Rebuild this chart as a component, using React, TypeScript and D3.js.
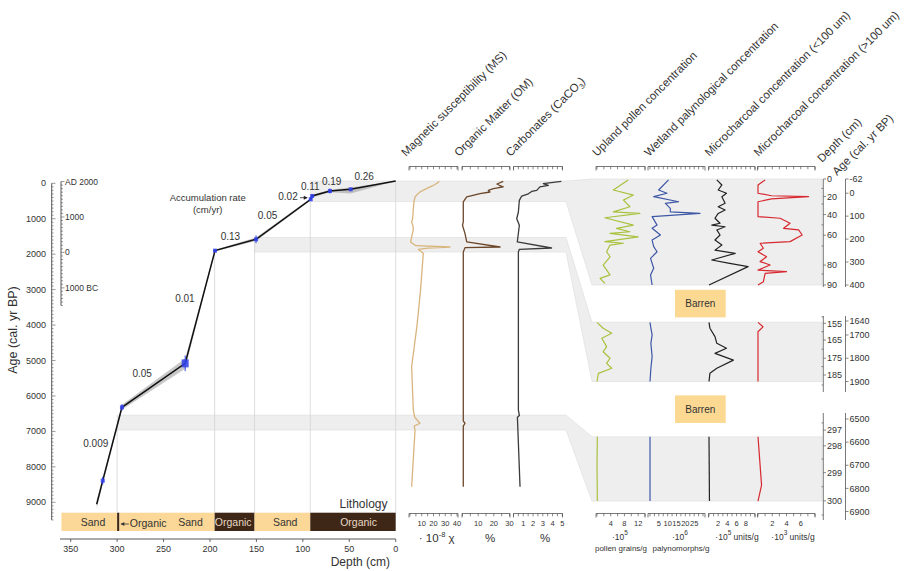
import * as d3 from "d3";
import React from "react";

// ---- age-depth model (depth in cm, age in cal yr BP) ----
const modelDepth = [0, 48.5, 70.8, 90, 91.5, 150.4, 194.6, 226.7, 294.8, 315.5, 322];
const modelAge = [-62, 170, 217, 358, 450, 1580, 1900, 5080, 6320, 8390, 9055];
const modelAgeMin = [-62, 120, 185, 320, 420, 1530, 1875, 4940, 6250, 8290, 8940];
const modelAgeMax = [-62, 290, 250, 400, 485, 1630, 1925, 5230, 6390, 8490, 9170];

const dateDepth = [48.5, 70.8, 90, 91.5, 150.4, 194.6, 226.7, 294.8, 315.5];
const dateAge = [170, 217, 358, 450, 1580, 1900, 5080, 6320, 8390];
const dateErr = [40, 70, 50, 40, 110, 30, 220, 90, 110];

const rateText = ["0.26", "0.19", "0.11", "0.02", "0.05", "0.13", "0.01", "0.05", "0.009"];
const rateDepth = [34, 69, 92, 116, 138, 178, 227, 273, 323];
const rateAge = [-169, -37, 113, 406, 942, 1523, 3264, 5380, 7361];

const lithoFrom = [360, 300, 297.5, 195, 152, 92];
const lithoTo = [300, 297.5, 195, 152, 92, 0];
const lithoType = ["Sand", "Organic", "Sand", "Organic", "Sand", "Organic"];
const lithoLabelDepth = [326, 296, 221, 175, 119, 40];
const boundaryDepth = [0, 92, 152, 195, 300];

const ageTicks = [0, 1000, 2000, 3000, 4000, 5000, 6000, 7000, 8000, 9000];
const depthTicks = [350, 300, 250, 200, 150, 100, 50, 0];
const adLabels = ["AD 2000", "1000", "0", "1000 BC"];
const adAges = [-50, 950, 1950, 2950];

// ---- shaded intervals ----
const bandAgeFrom = [-62, 1530, 6540];
const bandAgeTo = [515, 1940, 6960];
const bandStartDepth = [92, 152, 300];
const sectionAgeFrom = [-62, 1645, 6577];
const sectionAgeTo = [400, 1900, 6855];

// ---- geochemistry (age, value) ----
const msData: [number, number][] = [
  [-56, 25], [0, 23], [56, 20], [100, 17], [152, 14], [200, 11], [245, 8.5], [320, 6],
  [386, 4.3], [500, 3.5], [716, 2.8], [900, 2.5], [1035, 2], [1090, 1.4], [1200, 2.5],
  [1316, 2.8], [1500, 1.5], [1655, 0.5], [1760, 5], [1797, 34], [1830, 15], [1862, 7],
  [1938, 10], [1975, 11.3], [3000, 9], [4000, 6], [5174, 1.4], [6395, 2.8], [6600, 4],
  [6770, 8.5], [6850, 3.5], [6960, 4.3], [8560, 1.4],
];
const omData: [number, number][] = [
  [-56, 26], [20, 22], [56, 23.5], [100, 26], [152, 19.7], [200, 16.5], [245, 17.5],
  [290, 11.2], [386, 2.7], [527, 0.5], [1090, 0.5], [1184, 0], [1420, 1.6], [1655, 2.7],
  [1797, 24], [1815, 1.6], [1938, 0.5], [6700, 0.5], [6770, 1.6], [6850, 0.5], [8560, 0.5],
];
const carbData: [number, number][] = [
  [-56, 4.9], [10, 3.05], [56, 3.57], [100, 2.7], [200, 2.38], [230, 1.86], [296, 1.52],
  [360, 0.84], [480, 0.6], [810, 0.5], [1000, 0.33], [1184, 0.6], [1655, 0.39], [1825, 3.9],
  [1862, 0.6], [1938, 0.5], [6400, 0.5], [6550, 0.6], [6600, 0.4], [8560, 0.67],
];

// ---- palynology (age, value) per section ----
const uplandTop: [number, number][] = [
  [-58, 9.1], [-14, 4.75], [8, 10.6], [30, 7.7], [59, 9.6], [81, 4.75], [88, 12.5], [107, 2.3],
  [139, 10.6], [153, 5.7], [168, 9.6], [175, 3.8], [190, 12], [211, 2.3], [218, 7.7], [226, 3.8],
  [255, 2.8], [277, 3.8], [313, 1.8], [356, 3.8], [371, 0.9], [393, 2.3],
];
const uplandMid: [number, number][] = [
  [1646, 0], [1671, 1.8], [1693, 4.3], [1714, 1.4], [1750, 2.8], [1772, 1.8], [1800, 3.8],
  [1822, 2.8], [1843, 4.3], [1865, 0.4], [1900, 0],
];
const uplandBot: [number, number][] = [[6577, 0.1], [6700, 0], [6855, 0.1]];

const wetlandTop: [number, number][] = [
  [-58, 10.5], [-14, 4.9], [0, 9.6], [15, 2.1], [37, 16.2], [44, 8.7], [66, 11.5], [81, 11.5],
  [88, 28.3], [102, 1.2], [139, 4], [153, 1.2], [182, 5.9], [204, 1.2], [233, 2.1], [255, 4],
  [284, 0.3], [327, 2.1], [356, 0.3], [400, 1.2],
];
const wetlandMid: [number, number][] = [
  [1646, 0], [1671, 0.5], [1700, 1.2], [1736, 0.5], [1793, 1.2], [1843, 0.5], [1900, 0],
];
const wetlandBot: [number, number][] = [[6577, 0], [6855, 0]];

const microSmallTop: [number, number][] = [
  [-58, 1.7], [-36, 2.8], [-14, 2], [0, 3.8], [15, 2.8], [44, 3.5], [59, 2], [73, 3.5], [88, 2],
  [109, 1.3], [131, 2.4], [139, 0.6], [146, 3.5], [160, 1.7], [182, 2.4], [204, 1.3], [226, 2.8],
  [248, 1.3], [262, 5.7], [291, 0.6], [305, 4.2], [320, 8.5], [400, 0],
];
const microSmallMid: [number, number][] = [
  [1646, 0], [1671, 0.2], [1707, 1.3], [1736, 1.7], [1757, 3.8], [1779, 1.3], [1808, 5.3],
  [1843, 1.7], [1865, 0.2], [1900, 0],
];
const microSmallBot: [number, number][] = [[6577, 0], [6855, 0.1]];

const microLargeTop: [number, number][] = [
  [-58, 1], [-36, 0], [0, 0], [11, 1.9], [15, 7.1], [25, 1.9], [37, 0], [102, 0], [109, 3.1],
  [131, 4.5], [153, 3.6], [160, 5.7], [182, 6.2], [211, 4.5], [218, 0.3], [240, 0.75], [255, 0],
  [277, 1.2], [298, 0.3], [313, 1.7], [335, 0], [342, 4], [349, 1], [386, 0.75], [400, 0],
];
const microLargeMid: [number, number][] = [[1646, 0], [1665, 0.7], [1686, 0], [1900, 0]];
const microLargeBot: [number, number][] = [[6577, 0], [6786, 0.5], [6855, 0]];

// ---- right-hand depth / age axes per section ----
const secAgeTicks = [[-62, 0, 100, 200, 300, 400], [1640, 1700, 1800, 1900], [6500, 6600, 6700, 6800, 6900]];
const secDepthLabels = [[0, 20, 40, 60, 80, 90], [155, 165, 175, 185], [297, 298, 299, 300]];
const secDepthAges = [[-62, 14, 93, 183, 313, 400], [1650, 1722, 1800, 1872], [6548, 6616, 6732, 6854]];
const secMinorAges = [[-21, 47, 138, 230, 352], [1622, 1686, 1761, 1836, 1915], [6517, 6673, 6793, 6915]];

const FONT = "'Liberation Sans', Arial, Helvetica, sans-serif";
const TXT = "#333";

// layout
const depthX = d3.scaleLinear().domain([0, 350]).range([395.7, 70.7]);
const ageY = d3.scaleLinear().domain([0, 9000]).range([183.3, 502.3]);
const secY = [
  d3.scaleLinear().domain([-62, 400]).range([179, 285]),
  d3.scaleLinear().domain([1640, 1900]).range([321, 381.5]),
  d3.scaleLinear().domain([6500, 6900]).range([419, 511.5]),
];
const secAxisSpan = [[179, 287], [316, 392], [413, 520]];
const bandEndX = 566;
const secX0 = 592;
const secX1 = 822;

const geoPanels = [
  { name: "Magnetic susceptibility (MS)", color: "#d9b57e", domain: [0, 40], range: [410, 457], axis: [409, 458], step: 5, labels: [10, 20, 30, 40], data: msData },
  { name: "Organic Matter (OM)", color: "#6b4629", domain: [0, 30], range: [462.5, 509.5], axis: [462, 510], step: 5, labels: [10, 20, 30], data: omData },
  { name: "Carbonates (CaCO", color: "#3a3a3a", domain: [0, 5], range: [513.5, 562.3], axis: [513.5, 562.5], step: 0.5, labels: [1, 2, 3, 4, 5], data: carbData },
];

const palyPanels = [
  { name: "Upland pollen concentration", color: "#a8c23e", domain: [0, 14], range: [597, 645], axis: [596, 645], step: 2, labels: [4, 8, 12], data: [uplandTop, uplandMid, uplandBot], exp: "5", unit: "", under: "pollen grains/g", unitX: 620, underX: 621 },
  { name: "Wetland palynological concentration", color: "#3d57a6", domain: [0, 30], range: [650, 703], axis: [648, 705], step: 2.5, labels: [5, 10, 15, 20, 25], data: [wetlandTop, wetlandMid, wetlandBot], exp: "6", unit: "", under: "palynomorphs/g", unitX: 680, underX: 681 },
  { name: "Microcharcoal concentration (<100 um)", color: "#222", domain: [0, 10], range: [709, 755], axis: [708.5, 755], step: 1, labels: [2, 4, 6, 8], data: [microSmallTop, microSmallMid, microSmallBot], exp: "5", unit: " units/g", under: "", unitX: 737, underX: 737 },
  { name: "Microcharcoal concentration (>100 um)", color: "#d7282f", domain: [0, 8], range: [758, 815], axis: [757.5, 815], step: 1, labels: [2, 4, 6], data: [microLargeTop, microLargeMid, microLargeBot], exp: "3", unit: " units/g", under: "", unitX: 793, underX: 793 },
];

const Ruler: React.FC<{ scale: d3.ScaleLinear<number, number>; axis: number[]; step: number; y: number; labels?: number[] }> = ({ scale, axis, step, y, labels }) => {
  const [d0, d1] = scale.domain();
  const ticks = d3.range(d0, d1 + step / 2, step);
  return (
    <g>
      <line x1={axis[0]} x2={axis[1]} y1={y} y2={y} stroke="#555" strokeWidth={0.8} />
      <line x1={axis[0]} x2={axis[0]} y1={y} y2={y + 4} stroke="#555" strokeWidth={0.8} />
      <line x1={axis[1]} x2={axis[1]} y1={y} y2={y + 4} stroke="#555" strokeWidth={0.8} />
      {ticks.map((t) => (
        <line key={t} x1={scale(t)} x2={scale(t)} y1={y} y2={y + 2.8} stroke="#555" strokeWidth={0.7} />
      ))}
      {labels &&
        labels.map((t) => (
          <text key={t} x={scale(t)} y={y + 12.5} fontSize={7.5} textAnchor="middle" fill={TXT}>
            {t}
          </text>
        ))}
    </g>
  );
};

const App: React.FC = () => {
  const area = d3
    .area<number>()
    .x((i) => depthX(modelDepth[i]))
    .y0((i) => ageY(modelAgeMin[i]))
    .y1((i) => ageY(modelAgeMax[i]));
  const idx = d3.range(modelDepth.length);
  const modelLine = d3
    .line<number>()
    .x((i) => depthX(modelDepth[i]))
    .y((i) => ageY(modelAge[i]));

  const minorAges = d3.range(0, 9501, 100);
  const adMinor = d3.range(-50, 3451, 100);

  return (
    <svg width={917} height={571} style={{ display: "block", fontFamily: FONT }}>
      <style>{`body{margin:0}`}</style>
      <rect width={917} height={571} fill="#fff" />

      {/* shaded intervals and their links to the palynology sections */}
      {bandAgeFrom.map((a, k) => {
        const yT = ageY(a);
        const yB = ageY(bandAgeTo[k]);
        const sT = secY[k](sectionAgeFrom[k]);
        const sB = secY[k](sectionAgeTo[k]);
        const x0 = depthX(bandStartDepth[k]);
        const pts = [
          [x0, yT], [bandEndX, yT], [secX0, sT], [secX1, sT],
          [secX1, sB], [secX0, sB], [bandEndX, yB], [x0, yB],
        ];
        return (
          <polygon key={k} points={pts.map((p) => p.join(",")).join(" ")} fill="#eeeeee" stroke="#dcdcdc" strokeWidth={0.6} />
        );
      })}

      {/* lithology boundaries */}
      {boundaryDepth.map((d) => {
        const i = modelDepth.findIndex((m) => m >= d);
        const age =
          i <= 0 ? modelAge[0] : d3.interpolateNumber(modelAge[i - 1], modelAge[i])((d - modelDepth[i - 1]) / (modelDepth[i] - modelDepth[i - 1]));
        return <line key={d} x1={depthX(d)} x2={depthX(d)} y1={ageY(age)} y2={512.7} stroke="#d4d4d4" strokeWidth={0.8} />;
      })}

      {/* age-depth model */}
      <path d={area(idx) || ""} fill="#9a9a9a" opacity={0.55} />
      <path d={modelLine(idx) || ""} fill="none" stroke="#111" strokeWidth={1.5} />
      {dateDepth.map((d, i) => {
        const x = depthX(d);
        const y = ageY(dateAge[i]);
        const big = dateErr[i] > 200;
        return (
          <g key={i} stroke="#3040e8" fill="#3040e8">
            <line x1={x} x2={x} y1={ageY(dateAge[i] - dateErr[i])} y2={ageY(dateAge[i] + dateErr[i])} strokeWidth={1} />
            <rect x={x - (big ? 3.5 : 2)} y={y - (big ? 4 : 2)} width={big ? 7 : 4} height={big ? 8 : 4} stroke="none" opacity={0.85} />
          </g>
        );
      })}
      {rateText.map((t, i) => (
        <text key={i} x={depthX(rateDepth[i])} y={ageY(rateAge[i])} fontSize={10} fill={TXT} textAnchor="middle" dominantBaseline="middle">
          {t}
        </text>
      ))}
      <line x1={depthX(rateDepth[3]) + 12} x2={depthX(91.5) - 4} y1={ageY(rateAge[3])} y2={ageY(rateAge[3])} stroke="#222" strokeWidth={0.8} />
      <path d={`M${depthX(91.5) - 3},${ageY(rateAge[3])} l-4,-2 l0,4 z`} fill="#222" />
      <text x={207.7} y={201} fontSize={9.5} textAnchor="middle" fill={TXT}>Accumulation rate</text>
      <text x={207.7} y={212.5} fontSize={9.5} textAnchor="middle" fill={TXT}>(cm/yr)</text>

      {/* lithology */}
      {lithoFrom.map((d, i) => (
        <rect key={i} x={depthX(d)} y={512.7} width={depthX(lithoTo[i]) - depthX(d)} height={18.3} fill={lithoType[i] === "Sand" ? "#fbd897" : "#3e2717"} />
      ))}
      {lithoType.map((t, i) =>
        i === 1 ? (
          <g key={i}>
            <line x1={depthX(lithoLabelDepth[i])} x2={depthX(lithoLabelDepth[i]) + 8} y1={524} y2={524} stroke="#333" strokeWidth={0.8} />
            <path d={`M${depthX(lithoLabelDepth[i])},524 l3.5,-2 l0,4 z`} fill="#333" />
            <text x={depthX(lithoLabelDepth[i]) + 9} y={526.5} fontSize={10.5} fill={TXT}>Organic</text>
          </g>
        ) : (
          <text key={i} x={depthX(lithoLabelDepth[i])} y={525.5} fontSize={10.5} textAnchor="middle" fill={t === "Sand" ? TXT : "#e8d9c6"}>
            {t}
          </text>
        ),
      )}
      <text x={387.5} y={508} fontSize={12} textAnchor="end" fill={TXT}>Lithology</text>

      {/* depth axis */}
      <line x1={60} x2={395.7} y1={539} y2={539} stroke="#444" strokeWidth={0.9} />
      {depthTicks.map((d) => (
        <g key={d}>
          <line x1={depthX(d)} x2={depthX(d)} y1={539} y2={542} stroke="#444" strokeWidth={0.8} />
          <text x={depthX(d)} y={551.5} fontSize={9} textAnchor="middle" fill={TXT}>{d}</text>
        </g>
      ))}
      <text x={390} y={566} fontSize={12} textAnchor="end" fill={TXT}>Depth (cm)</text>

      {/* age axis */}
      <line x1={51.7} x2={51.7} y1={ageY(0)} y2={ageY(9500)} stroke="#444" strokeWidth={0.9} />
      {minorAges.map((a) => (
        <line key={a} x1={51.7} x2={a % 1000 === 0 ? 55.5 : 53.5} y1={ageY(a)} y2={ageY(a)} stroke="#555" strokeWidth={0.6} />
      ))}
      {ageTicks.map((a) => (
        <text key={a} x={46} y={ageY(a) + 3} fontSize={9} textAnchor="end" fill={TXT}>{a}</text>
      ))}
      <text transform={`translate(17,330) rotate(-90)`} fontSize={12.5} textAnchor="middle" fill={TXT}>Age (cal. yr BP)</text>

      {/* calendar axis */}
      <line x1={61} x2={61} y1={ageY(-50)} y2={ageY(3450)} stroke="#444" strokeWidth={0.9} />
      {adMinor.map((a) => (
        <line key={a} x1={61} x2={(a + 50) % 1000 === 0 ? 64.5 : 63} y1={ageY(a)} y2={ageY(a)} stroke="#555" strokeWidth={0.6} />
      ))}
      {adLabels.map((t, i) => (
        <text key={t} x={65} y={ageY(adAges[i]) + 3} fontSize={8.5} fill={TXT}>{t}</text>
      ))}

      {/* geochemistry curves */}
      {geoPanels.map((p, k) => {
        const xs = d3.scaleLinear().domain(p.domain).range(p.range);
        const line = d3
          .line<[number, number]>()
          .x((d) => xs(d[1]))
          .y((d) => ageY(d[0]));
        return (
          <g key={k}>
            <path d={line(p.data) || ""} fill="none" stroke={p.color} strokeWidth={1.3} strokeLinejoin="round" />
            <Ruler scale={xs} axis={p.axis} step={p.step} y={166.5} />
            <Ruler scale={xs} axis={p.axis} step={p.step} y={513.5} labels={p.labels} />
            <text transform={`translate(${p.axis[0] - 3},157) rotate(-45)`} fontSize={11.5} fill={TXT}>
              {p.name}
              {k === 2 && (
                <>
                  <tspan fontSize={7.5} dy={3}>3</tspan>
                  <tspan dy={-3}>)</tspan>
                </>
              )}
            </text>
          </g>
        );
      })}
      <text x={436.7} y={542} fontSize={11.5} textAnchor="middle" fill={TXT}>
        {"· 10"}
        <tspan fontSize={7.5} dy={-5}>-8</tspan>
        <tspan dy={5}> χ</tspan>
      </text>
      <text x={490} y={542} fontSize={11.5} textAnchor="middle" fill={TXT}>%</text>
      <text x={545} y={542} fontSize={11.5} textAnchor="middle" fill={TXT}>%</text>

      {/* palynology curves */}
      {palyPanels.map((p, k) => {
        const xs = d3.scaleLinear().domain(p.domain).range(p.range);
        return (
          <g key={k}>
            {p.data.map((series, s) => {
              const line = d3
                .line<[number, number]>()
                .x((d) => xs(d[1]))
                .y((d) => secY[s](d[0]));
              return <path key={s} d={line(series) || ""} fill="none" stroke={p.color} strokeWidth={1.2} strokeLinejoin="round" />;
            })}
            <Ruler scale={xs} axis={p.axis} step={p.step} y={166.5} />
            <Ruler scale={xs} axis={p.axis} step={p.step} y={513.5} labels={p.labels} />
            <text transform={`translate(${p.axis[0] + 1},157) rotate(-45)`} fontSize={11.5} fill={TXT}>{p.name}</text>
            <text x={p.unitX} y={540} fontSize={8.5} textAnchor="middle" fill={TXT}>
              {"·10"}
              <tspan fontSize={6.5} dy={-5}>{p.exp}</tspan>
              <tspan dy={5}>{p.unit}</tspan>
            </text>
            {p.under && (
              <text x={p.underX} y={551} fontSize={8} textAnchor="middle" fill={TXT}>{p.under}</text>
            )}
          </g>
        );
      })}

      {/* barren intervals */}
      {[0, 1].map((g) => {
        const mid = (secY[g](sectionAgeTo[g]) + secY[g + 1](sectionAgeFrom[g + 1])) / 2;
        return (
          <g key={g}>
            <rect x={675} y={mid - 13.8} width={50.7} height={27.6} fill="#fcd993" />
            <text x={700.3} y={mid + 3.5} fontSize={10} textAnchor="middle" fill={TXT}>Barren</text>
          </g>
        );
      })}

      {/* right-hand depth and age axes */}
      {secY.map((ys, s) => (
        <g key={s}>
          <line x1={823.3} x2={823.3} y1={secAxisSpan[s][0]} y2={secAxisSpan[s][1]} stroke="#555" strokeWidth={0.8} />
          <line x1={845.5} x2={845.5} y1={secAxisSpan[s][0]} y2={secAxisSpan[s][1]} stroke="#555" strokeWidth={0.8} />
          {secDepthLabels[s].map((d, i) => (
            <g key={d}>
              <line x1={823.3} x2={826} y1={ys(secDepthAges[s][i])} y2={ys(secDepthAges[s][i])} stroke="#555" strokeWidth={0.7} />
              <text x={827} y={ys(secDepthAges[s][i]) + 3.2} fontSize={9} fill={TXT}>{d}</text>
            </g>
          ))}
          {secMinorAges[s].map((a) => (
            <line key={a} x1={821.5} x2={823.3} y1={ys(a)} y2={ys(a)} stroke="#555" strokeWidth={0.7} />
          ))}
          {secAgeTicks[s].map((a) => (
            <g key={a}>
              <line x1={845.5} x2={848.5} y1={ys(a)} y2={ys(a)} stroke="#555" strokeWidth={0.7} />
              <text x={849.5} y={ys(a) + 3.2} fontSize={9} fill={TXT}>{a}</text>
            </g>
          ))}
        </g>
      ))}
      <text transform="translate(822,163) rotate(-45)" fontSize={11.5} fill={TXT}>Depth (cm)</text>
      <text transform="translate(837,176) rotate(-45)" fontSize={11.5} fill={TXT}>Age (cal. yr BP)</text>
    </svg>
  );
};

export default App;
